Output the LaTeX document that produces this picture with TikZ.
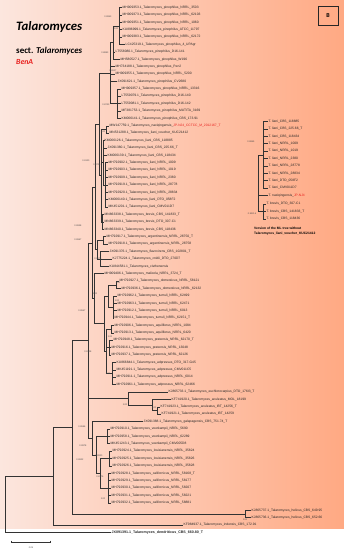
\documentclass[tikz,border=0pt]{standalone}
\usepackage{fontspec}
\usepackage{graphicx}
\setmainfont{Liberation Sans}
\newfontfamily\titlefont{Carlito}
\definecolor{myred}{HTML}{E8201E}
\definecolor{bgleft}{HTML}{FCE6DE}
\definecolor{bgright}{HTML}{FFA983}
\newcommand\lf[4]{\node[leaf] (#1) at (#2,#3) {#4};}
\newcommand\br[2]{\foreach \c in {#2} {\draw[tree] (#1) |- (\c);}}
\newcommand\sv[3]{\node[supp] at (#1pt,-#2pt) {#3};}
\begin{document}
\begin{tikzpicture}[x=1pt,y=-7.394pt,
  tree/.style={draw=black!80, line width=0.35pt},
  leaf/.style={anchor=west, inner sep=0.5pt, font=\fontsize{3.3}{3.7}\selectfont, text=black!85},
  supp/.style={font=\fontsize{2.3}{2.6}\selectfont, inner sep=0pt, text=black!70}]
\useasboundingbox (0pt,0pt) rectangle (344pt,-550pt);
\shade[left color=bgleft, right color=bgright] (0pt,0pt) rectangle (344pt,-528pt);

% titles
\node[anchor=west, inner sep=0pt] (title) at (16pt,-27pt) {\resizebox{66pt}{!}{\titlefont\bfseries\itshape Talaromyces}};
\node[anchor=west, inner sep=0pt] (sect) at (16pt,-51.5pt) {\resizebox{66pt}{!}{\titlefont\bfseries sect. \textit{Talaromyces}}};
\node[anchor=west, inner sep=0pt, text=myred] (benA) at (16pt,-62pt) {\resizebox{17pt}{!}{\titlefont\bfseries\itshape BenA}};
\node[draw=black!85, line width=0.6pt, minimum width=20pt, minimum height=19pt, inner sep=0pt, font=\titlefont\bfseries\fontsize{6}{7}\selectfont] (panel) at (328pt,-15.5pt) {B};

% leaves
\lf{l1}{122}{1}{MH909353.1\_Talaromyces\_pinophilus\_NRRL\_3503}
\lf{l2}{122}{2}{MH909373.1\_Talaromyces\_pinophilus\_NRRL\_62103}
\lf{l3}{122}{3}{MH909351.1\_Talaromyces\_pinophilus\_NRRL\_1060}
\lf{l4}{122}{4}{KU896999.1\_Talaromyces\_pinophilus\_ATCC\_11797}
\lf{l5}{122}{5}{MH909383.1\_Talaromyces\_pinophilus\_NRRL\_62172}
\lf{l6}{125}{6}{LC425319.1\_Talaromyces\_pinophilus\_4\_UPAgr}
\lf{l7}{115}{7}{LT558080.1\_Talaromyces\_pinophilus\_D16-141}
\lf{l8}{120}{8}{MH580527.1\_Talaromyces\_pinophilus\_W196}
\lf{l9}{115}{9}{MH734188.1\_Talaromyces\_pinophilus\_Pen2}
\lf{l10}{115}{10}{MH909355.1\_Talaromyces\_pinophilus\_NRRL\_5200}
\lf{l11}{117}{11}{JX091621.1\_Talaromyces\_pinophilus\_CV2680}
\lf{l12}{121}{12}{MH909357.1\_Talaromyces\_pinophilus\_NRRL\_13316}
\lf{l13}{121}{13}{LT559079.1\_Talaromyces\_pinophilus\_D16-140}
\lf{l14}{121}{14}{LT559081.1\_Talaromyces\_pinophilus\_D16-142}
\lf{l15}{121}{15}{MF381753.1\_Talaromyces\_pinophilus\_MUTITA\_3169}
\lf{l16}{121}{16}{KM066141.1\_Talaromyces\_pinophilus\_CBS\_173.91}
\lf{l17}{109}{17}{MW147759.1\_Talaromyces\_naxiqingensis\_\textcolor{myred}{JP-NJ4\_CCTCC\_M\_2012167\_T}}
\lf{l18}{109}{18}{MN531288.1\_Talaromyces\_liani\_voucher\_KUC21412}
\lf{l19}{104}{19}{KM066126.1\_Talaromyces\_liani\_CBS\_118885}
\lf{l20}{107}{20}{JX091380.1\_Talaromyces\_liani\_CBS\_225.66\_T}
\lf{l21}{107}{21}{KM066139.1\_Talaromyces\_liani\_CBS\_118434}
\lf{l22}{108}{22}{MH792902.1\_Talaromyces\_liani\_NRRL\_1009}
\lf{l23}{108}{23}{MH792903.1\_Talaromyces\_liani\_NRRL\_1019}
\lf{l24}{108}{24}{MH792909.1\_Talaromyces\_liani\_NRRL\_2380}
\lf{l25}{108}{25}{MH792919.1\_Talaromyces\_liani\_NRRL\_28778}
\lf{l26}{108}{26}{MH792920.1\_Talaromyces\_liani\_NRRL\_28834}
\lf{l27}{108}{27}{KM066140.1\_Talaromyces\_liani\_DTO\_058F2}
\lf{l28}{108}{28}{MK451201.1\_Talaromyces\_liani\_CMV011D7}
\lf{l29}{104}{29}{MN863338.1\_Talaromyces\_brevis\_CBS\_141833\_T}
\lf{l30}{104}{30}{MN863339.1\_Talaromyces\_brevis\_DTO\_307-C1}
\lf{l31}{104}{31}{MN863340.1\_Talaromyces\_brevis\_CBS\_118436}
\lf{l32}{106}{32}{MH792917.1\_Talaromyces\_argentinensis\_NRRL\_28750\_T}
\lf{l33}{108}{33}{MH792918.1\_Talaromyces\_argentinensis\_NRRL\_28758}
\lf{l34}{109}{34}{JX091376.1\_Talaromyces\_flavovirens\_CBS\_102801\_T}
\lf{l35}{112}{35}{KJ775224.1\_Talaromyces\_cnidii\_DTO\_270D7}
\lf{l36}{109}{36}{KU844581.1\_Talaromyces\_cisthenensis}
\lf{l37}{104}{37}{MH909406.1\_Talaromyces\_malicola\_NRRL\_3724\_T}
\lf{l38}{119}{38}{MH792927.1\_Talaromyces\_domesticus\_NRRL\_58121}
\lf{l39}{121}{39}{MH792936.1\_Talaromyces\_domesticus\_NRRL\_62132}
\lf{l40}{117}{40}{MH792962.1\_Talaromyces\_tumuli\_NRRL\_62499}
\lf{l41}{117}{41}{MH792963.1\_Talaromyces\_tumuli\_NRRL\_62471}
\lf{l42}{117}{42}{MH792912.1\_Talaromyces\_tumuli\_NRRL\_6013}
\lf{l43}{114}{43}{MH792944.1\_Talaromyces\_tumuli\_NRRL\_62151\_T}
\lf{l44}{114}{44}{MH792906.1\_Talaromyces\_aquiliferus\_NRRL\_1084}
\lf{l45}{114}{45}{MH792913.1\_Talaromyces\_aquiliferus\_NRRL\_6420}
\lf{l46}{113}{46}{MH792948.1\_Talaromyces\_pratensis\_NRRL\_62170\_T}
\lf{l47}{111}{47}{MH792916.1\_Talaromyces\_pratensis\_NRRL\_13048}
\lf{l48}{111}{48}{MH792937.1\_Talaromyces\_pratensis\_NRRL\_62126}
\lf{l49}{116}{49}{KU866844.1\_Talaromyces\_adpressus\_DTO\_317-G45}
\lf{l50}{116}{50}{MK451191.1\_Talaromyces\_adpressus\_CMV011C5}
\lf{l51}{116}{51}{MH792911.1\_Talaromyces\_adpressus\_NRRL\_6014}
\lf{l52}{116}{52}{MH792961.1\_Talaromyces\_adpressus\_NRRL\_62466}
\lf{l53}{168}{53}{KJ865733.1\_Talaromyces\_euchlorocarpius\_DTO\_176I3\_T}
\lf{l54}{171}{54}{KF741920.1\_Talaromyces\_aculeatus\_MOL\_18199}
\lf{l55}{160}{55}{KF741923.1\_Talaromyces\_aculeatus\_IBT\_14256\_T}
\lf{l56}{161}{56}{KF741921.1\_Talaromyces\_aculeatus\_IBT\_14259}
\lf{l57}{143}{57}{JX091388.1\_Talaromyces\_galapagensis\_CBS\_751.74\_T}
\lf{l58}{110}{58}{MH792910.1\_Talaromyces\_veerkampii\_NRRL\_5690}
\lf{l59}{110}{59}{MH792958.1\_Talaromyces\_veerkampii\_NRRL\_62289}
\lf{l60}{110}{60}{MK451243.1\_Talaromyces\_veerkampii\_CMV005D8}
\lf{l61}{112}{61}{MH792924.1\_Talaromyces\_louisianensis\_NRRL\_35824}
\lf{l62}{112}{62}{MH792925.1\_Talaromyces\_louisianensis\_NRRL\_35826}
\lf{l63}{112}{63}{MH792926.1\_Talaromyces\_louisianensis\_NRRL\_35828}
\lf{l64}{111}{64}{MH792928.1\_Talaromyces\_californicus\_NRRL\_58168\_T}
\lf{l65}{111}{65}{MH792929.1\_Talaromyces\_californicus\_NRRL\_58177}
\lf{l66}{111}{66}{MH792930.1\_Talaromyces\_californicus\_NRRL\_58207}
\lf{l67}{111}{67}{MH792931.1\_Talaromyces\_californicus\_NRRL\_58221}
\lf{l68}{111}{68}{MH792932.1\_Talaromyces\_californicus\_NRRL\_58881}
\lf{l69}{251}{69}{KJ865737.1\_Talaromyces\_helicus\_CBS\_649.95}
\lf{l70}{251}{70}{KJ865736.1\_Talaromyces\_helicus\_CBS\_652.66}
\lf{l71}{183}{71}{KF984937.1\_Talaromyces\_indensis\_CBS\_172.91}
\node[leaf, font=\fontsize{3.6}{4}\selectfont\bfseries] (l72) at (111,72) {JX091391.1\_Talaromyces\_dendriticus\_CBS\_660.80\_T};

% internal nodes
\coordinate (pin1) at (119,3.5);
\coordinate (pin2) at (113,5.75);
\coordinate (pin4) at (117,14);
\coordinate (pin3) at (110,9.875);
\coordinate (NL) at (106,17.5);
\coordinate (li2) at (105.5,25);
\coordinate (LI) at (103.5,22);
\coordinate (BR) at (102,30);
\coordinate (LB) at (101,23.75);
\coordinate (PL) at (99,16.8125);
\coordinate (ARG) at (103,32.5);
\coordinate (FL) at (100,35);
\coordinate (G) at (97,33.75);
\coordinate (D1) at (95,25.28);
\coordinate (DOM) at (116,38.5);
\coordinate (TUM) at (113,41.5);
\coordinate (TU1) at (108,40);
\coordinate (AQ) at (111,44.5);
\coordinate (PR) at (109,47);
\coordinate (AD) at (112,50.5);
\coordinate (TU2) at (106,47.5);
\coordinate (TU) at (104,43.75);
\coordinate (D2) at (94,40.375);
\coordinate (D) at (92,32.83);
\coordinate (E3) at (157,55.5);
\coordinate (E2) at (152,54.75);
\coordinate (E) at (128,53.875);
\coordinate (VE) at (107,59);
\coordinate (LO) at (109,62);
\coordinate (CA) at (108,66);
\coordinate (F3) at (100,64);
\coordinate (F2) at (96,61.5);
\coordinate (F) at (92,59.25);
\coordinate (C) at (88,46.04);
\coordinate (H) at (245,69.5);
\coordinate (B) at (72,57.77);
\coordinate (A) at (53,64.385);
\coordinate (R) at (5,68.19);

% branches
\br{pin1}{l1,l2,l3,l4,l5,l6}
\br{pin2}{pin1,l7,l8}
\br{pin4}{l12,l13,l14,l15,l16}
\br{pin3}{pin2,l9,l10,l11,pin4}
\br{NL}{l17,l18}
\br{li2}{l22,l23,l24,l25,l26,l27,l28}
\br{LI}{l19,l20,l21,li2}
\br{BR}{l29,l30,l31}
\br{LB}{NL,LI,BR}
\br{PL}{pin3,LB}
\br{ARG}{l32,l33}
\br{FL}{l34,l35,l36}
\br{G}{ARG,FL}
\br{D1}{PL,G}
\br{DOM}{l38,l39}
\br{TUM}{l40,l41,l42,l43}
\br{TU1}{DOM,TUM}
\br{AQ}{l44,l45}
\br{PR}{l46,l47,l48}
\br{AD}{l49,l50,l51,l52}
\br{TU2}{AQ,PR,AD}
\br{TU}{TU1,TU2}
\br{D2}{l37,TU}
\br{D}{D1,D2}
\br{E3}{l55,l56}
\br{E2}{l54,E3}
\br{E}{l53,E2}
\br{VE}{l58,l59,l60}
\br{LO}{l61,l62,l63}
\br{CA}{l64,l65,l66,l67,l68}
\br{F3}{LO,CA}
\br{F2}{VE,F3}
\br{F}{l57,F2}
\br{C}{D,E,F}
\br{H}{l69,l70}
\br{B}{C,H}
\br{A}{B,l71}
\br{R}{A,l72}

% support values
\sv{108}{17}{0.9953}
\sv{116}{29}{1.00}
\sv{105}{53}{0.8893}
\sv{113}{71}{0.9917}
\sv{106}{105}{0.8743}
\sv{103}{132}{1.00}
\sv{86}{161}{0.9120}
\sv{97}{165}{0.8723}
\sv{78}{226}{0.9938}
\sv{78}{240}{0.9967}
\sv{98}{259}{0.9975}
\sv{118}{283}{1.00}
\sv{95}{294}{1.00}
\sv{117}{301}{1.00}
\sv{82}{311}{0.9557}
\sv{110}{337}{1.00}
\sv{88}{352}{0.9108}
\sv{108}{374}{1.00}
\sv{125}{405}{1.00}
\sv{154}{408}{1.00}
\sv{82}{427}{0.9596}
\sv{83}{446}{0.9978}
\sv{99}{456}{0.9920}
\sv{80}{460}{0.9922}
\sv{100}{477}{0.8176}
\sv{103}{499}{1.00}
\sv{245}{520}{1.00}

% inset tree
\lf{i1}{268}{16.42}{T. liani\_CBS\_118885}
\lf{i2}{268}{17.42}{T. liani\_CBS\_225.66\_T}
\lf{i3}{268}{18.42}{T. liani\_CBS\_118434}
\lf{i4}{268}{19.42}{T. liani\_NRRL\_1009}
\lf{i5}{268}{20.42}{T. liani\_NRRL\_1019}
\lf{i6}{268}{21.42}{T. liani\_NRRL\_2380}
\lf{i7}{268}{22.42}{T. liani\_NRRL\_28778}
\lf{i8}{268}{23.42}{T. liani\_NRRL\_28834}
\lf{i9}{268}{24.42}{T. liani\_DTO\_058F2}
\lf{i10}{268}{25.42}{T. liani\_CMV011D7}
\lf{i11}{268}{26.42}{T. naxiqingensis\_\textcolor{myred}{JP-NJ4}}
\lf{i12}{266}{27.6}{T. brevis\_DTO\_307-C1}
\lf{i13}{266}{28.6}{T. brevis\_CBS\_141833\_T}
\lf{i14}{266}{29.6}{T. brevis\_CBS\_118436}
\coordinate (IL) at (263,20.92);
\coordinate (IB) at (263,28.6);
\coordinate (IR) at (258,24.76);
\br{IL}{i1,i2,i3,i4,i5,i6,i7,i8,i9,i10}
\br{IB}{i12,i13,i14}
\br{IR}{IL,i11,IB}
\sv{251}{142}{0.9855}
\sv{252}{214}{0.95/0.6}
\node[anchor=north west, inner sep=0pt, align=left, font=\fontsize{3.3}{5}\selectfont\bfseries] (caption) at (254pt,-227pt) {Version of the ML tree without\\Talaromyces\_liani\_voucher\_KUC21412};

% scale bar
\coordinate (sb1) at (11pt,-542pt);
\coordinate (sb2) at (50pt,-542pt);
\draw[tree] (sb1) -- (sb2);
\draw[tree] ([yshift=1.3pt]sb1) -- ([yshift=-1.3pt]sb1);
\draw[tree] ([yshift=1.3pt]sb2) -- ([yshift=-1.3pt]sb2);
\node[supp] (sblabel) at (31pt,-548pt) {0.05};
\end{tikzpicture}
\end{document}
